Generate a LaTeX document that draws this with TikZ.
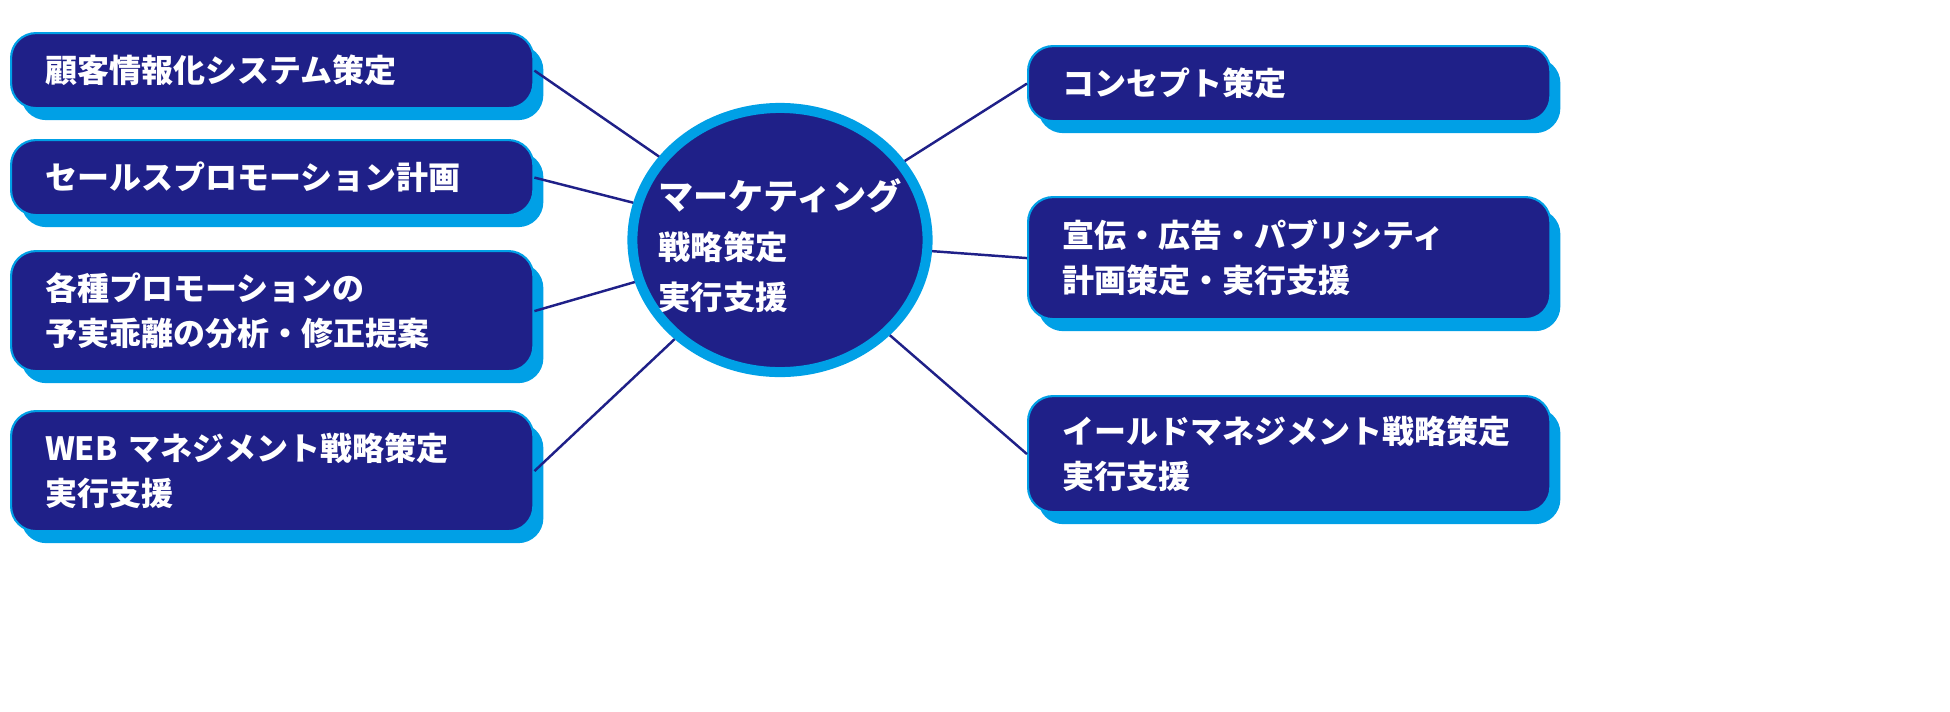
\documentclass[tikz,border=0pt]{standalone}
\usepackage{fontspec}
\newfontfamily\jpfont{Noto Sans CJK JP}
\usetikzlibrary{shapes.geometric}
\usetikzlibrary{shadows}
\definecolor{navy}{HTML}{1F2088}
\definecolor{skyblue}{HTML}{00A0E6}

\begin{document}
\begin{tikzpicture}[x=0.01cm,y=-0.01cm,
	item/.style={rectangle, rounded corners=0.25cm, fill=navy, draw=skyblue,
		line width=0.6pt, text=white, anchor=north west,
		general shadow={fill=skyblue, shadow xshift=0.1cm, shadow yshift=-0.12cm},
		inner xsep=0.34cm, inner ysep=0pt, text width=4.54cm, align=left,
		font=\jpfont\bfseries\fontsize{9.1pt}{12.8pt}\selectfont},
	one/.style={item, minimum height=0.75cm},
	two/.style={item, minimum height=1.2cm},
	link/.style={draw=navy, line width=0.7pt}]
		\useasboundingbox (0,0) rectangle (1950,711);
		% left column
		\node[one] (crm) at (10,32) {顧客情報化システム策定};
		\node[one] (sales) at (10,139) {セールスプロモーション計画};
		\node[two] (promo) at (10,250) {各種プロモーションの\\予実乖離の分析・修正提案};
		\node[two] (web) at (10,410) {WEB マネジメント戦略策定\\実行支援};
		% right column
		\node[one] (concept) at (1027,45) {コンセプト策定};
		\node[two, minimum height=1.22cm] (pr) at (1027,196) {宣伝・広告・パブリシティ\\計画策定・実行支援};
		\node[two, minimum height=1.16cm] (yield) at (1027,395) {イールドマネジメント戦略策定\\実行支援};
		% centre
		\node[ellipse, fill=navy, draw=skyblue, line width=0.1cm,
			minimum width=2.95cm, minimum height=2.64cm, inner sep=0pt] (mkt) at (780,240) {};
		\node[text=white, align=left, inner sep=0pt,
			font=\jpfont\bfseries\fontsize{9.2pt}{14.2pt}\selectfont] (mktlabel) at (780,246)
			{{\fontsize{10pt}{14.2pt}\selectfont マーケティング}\\戦略策定\\実行支援};
		\draw[link] (crm.east) -- (mkt);
		\draw[link] (sales.east) -- (mkt);
		\draw[link] (promo.east) -- (mkt);
		\draw[link] (web.east) -- (mkt);
		\draw[link] (concept.west) -- (mkt);
		\draw[link] (pr.west) -- (mkt);
		\draw[link] (yield.west) -- (mkt);
	\end{tikzpicture}
\end{document}
